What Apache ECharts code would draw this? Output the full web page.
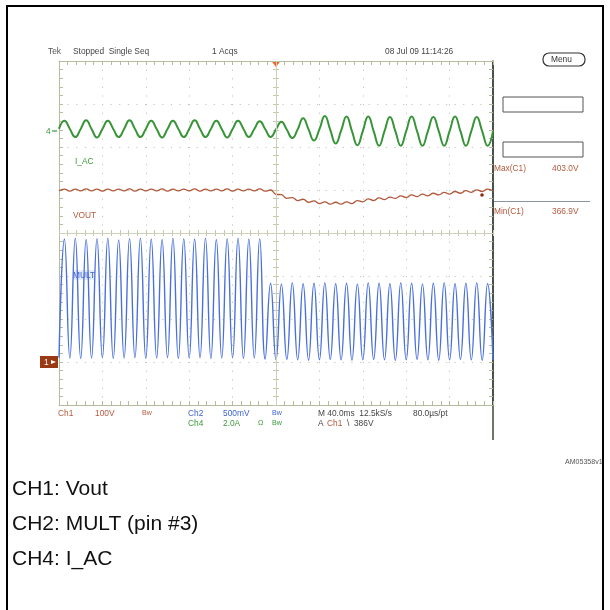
<!DOCTYPE html>
<html><head><meta charset="utf-8">
<script src="https://cdn.jsdelivr.net/npm/echarts@6/dist/echarts.min.js"></script>
<style>html,body{margin:0;padding:0;background:#fff}#c{width:610px;height:610px}</style>
</head><body><div id="c"></div>
<script>
// time of each sample in ms (trigger at 0), 40 ms/div, 10 div
const timeMs = [-200,-195,-190,-185,-180,-175,-170,-165,-160,-155,-150,-145,-140,-135,-130,-125,-120,-115,-110,-105,
-100,-95,-90,-85,-80,-75,-70,-65,-60,-55,-50,-45,-40,-35,-30,-25,-20,-15,-10,-5,
0,5,10,15,20,25,30,35,40,45,50,55,60,65,70,75,80,85,90,95,
100,105,110,115,120,125,130,135,140,145,150,155,160,165,170,175,180,185,190,195,200];
// values in screen divisions (centre = 0)
const voutDiv = [0.98,1.02,0.975,1.02,0.98,1.025,0.98,1.02,0.975,1.02,
0.98,1.02,0.98,1.025,0.975,1.02,0.98,1.02,0.98,1.025,
0.975,1.02,0.98,1.02,0.98,1.025,0.975,1.02,0.98,1.02,
0.98,1.025,0.975,1.02,0.98,1.02,0.98,1.025,0.975,1.0,
0.90,0.89,0.805,0.825,0.755,0.785,0.715,0.745,0.685,0.725,
0.67,0.715,0.67,0.725,0.685,0.755,0.725,0.795,0.755,0.815,
0.775,0.835,0.805,0.865,0.825,0.885,0.845,0.905,0.865,0.925,
0.885,0.945,0.905,0.965,0.925,0.985,0.945,1.005,0.965,1.02,0.98];
const iacDiv = [2.42,2.61,2.42,2.23,2.42,2.62,2.42,2.22,2.42,2.61,
2.42,2.23,2.42,2.62,2.42,2.23,2.42,2.61,2.42,2.22,
2.42,2.61,2.42,2.23,2.42,2.62,2.42,2.23,2.42,2.61,
2.42,2.22,2.42,2.61,2.42,2.23,2.42,2.60,2.42,2.23,
2.41,2.59,2.40,2.21,2.41,2.67,2.41,2.15,2.41,2.72,
2.40,2.08,2.38,2.71,2.37,2.04,2.37,2.71,2.37,2.03,
2.37,2.70,2.37,2.03,2.37,2.71,2.37,2.03,2.37,2.70,
2.37,2.03,2.37,2.71,2.37,2.03,2.37,2.70,2.37,2.03,2.37];
const multDiv = [-2.90,-0.14,-2.91,-0.12,-2.92,-0.15,-2.91,-0.13,-2.90,-0.12,
-2.92,-0.16,-2.91,-0.13,-2.90,-0.12,-2.92,-0.14,-2.91,-0.15,
-2.90,-0.12,-2.92,-0.13,-2.91,-0.14,-2.90,-0.12,-2.92,-0.15,
-2.91,-0.13,-2.90,-0.12,-2.92,-0.14,-2.91,-0.13,-2.93,-1.17,
-2.95,-1.19,-2.94,-1.16,-2.95,-1.18,-2.96,-1.17,-2.95,-1.16,
-2.94,-1.18,-2.95,-1.17,-2.96,-1.19,-2.95,-1.16,-2.94,-1.17,
-2.95,-1.18,-2.96,-1.16,-2.95,-1.17,-2.94,-1.19,-2.95,-1.17,
-2.96,-1.16,-2.95,-1.18,-2.94,-1.17,-2.95,-1.16,-2.96,-1.18,-2.95];
const headerTexts = ['Tek','Stopped  Single Seq','1 Acqs','08 Jul 09 11:14:26'];
const captions = ['CH1: Vout','CH2: MULT (pin #3)','CH4: I_AC'];

const pairs = v => timeMs.map((t,i)=>[t,v[i]]);
const FR = '#b6bc9e', DOT = '#c4c6b6', CT = '#c3c8ad';
const F = '"Liberation Sans", Arial, sans-serif';
function xa(extra){return Object.assign({type:'value',min:-200,max:200,interval:40,
  axisLabel:{show:false},splitLine:{show:false},
  axisLine:{onZero:false,lineStyle:{color:FR,width:1}},
  axisTick:{show:true,inside:true,length:4,lineStyle:{color:FR}},
  minorTick:{show:true,splitNumber:5,length:4,lineStyle:{color:FR}}},extra);}
function ya(extra){return Object.assign({type:'value',min:-4,max:4,interval:1,
  axisLabel:{show:false},splitLine:{show:false},
  axisLine:{onZero:false,lineStyle:{color:FR,width:1}},
  axisTick:{show:true,inside:true,length:4,lineStyle:{color:FR}},
  minorTick:{show:true,splitNumber:5,length:4,lineStyle:{color:FR}}},extra);}
const dotted = {show:true,lineStyle:{color:DOT,width:1,type:[1.2,7.4]}};
function t(txt,x,y,color,size,extra){return Object.assign({type:'text',x:x,y:y,scaleX:0.88,
  style:{text:txt,fill:color,font:(size||9.5)+'px '+F,textVerticalAlign:'middle'}},extra||{});}
const BR='#b35a3c', BL='#3f63d0', GR='#3b9a3b', DK='#444';
const centreTick = {axisLine:{show:false,onZero:false},axisTick:{show:true,inside:true,length:6,lineStyle:{color:CT}},minorTick:{show:true,splitNumber:5,length:6,lineStyle:{color:CT}}};

const chart = echarts.init(document.getElementById('c'),null,{renderer:'canvas'});
chart.setOption({
  animation:false,
  backgroundColor:'#fff',
  grid:{left:59,top:61,width:434,height:344,containLabel:false},
  xAxis:[
    xa({position:'bottom',splitLine:dotted}),
    xa({position:'top'}),
    xa(Object.assign({position:'bottom',offset:-169},centreTick))
  ],
  yAxis:[
    ya({position:'left',splitLine:dotted}),
    ya({position:'right',axisLine:{onZero:false,lineStyle:{color:'#3c473c',width:1.5}}}),
    ya(Object.assign({position:'left',offset:-214},centreTick))
  ],
  series:[
    {name:'centre',type:'line',data:[],z:1,markLine:{silent:true,symbol:'none',label:{show:false},
      lineStyle:{color:'#cdd1ba',width:1,type:'solid'},data:[{xAxis:0},{yAxis:0}]}},
    {name:'MULT',type:'line',data:pairs(multDiv),smooth:0.5,symbol:'none',lineStyle:{color:'#4a70dc',width:1.4}},
    {name:'VOUT',type:'line',data:pairs(voutDiv),smooth:0.5,symbol:'none',lineStyle:{color:'#b0583a',width:1.3}},
    {name:'I_AC',type:'line',data:pairs(iacDiv),smooth:0.5,symbol:'none',lineStyle:{color:'#379437',width:2}}
  ],
  graphic:[
    {type:'rect',shape:{x:7,y:6,width:596,height:640},style:{fill:'none',stroke:'#000',lineWidth:2},z:-1},
    t(headerTexts[0],48,51,'#555'),
    t(headerTexts[1],73,51,'#444'),
    t(headerTexts[2],212,51,'#444'),
    t(headerTexts[3],385,51,'#444'),
    {type:'rect',shape:{x:543,y:53,width:42,height:13,r:6},style:{fill:'#fff',stroke:'#333',lineWidth:1.2}},
    t('Menu',551,59.5,'#333'),
    {type:'rect',shape:{x:503,y:97,width:80,height:15},style:{fill:'#fff',stroke:'#555',lineWidth:1}},
    {type:'rect',shape:{x:503,y:142,width:80,height:15},style:{fill:'#fff',stroke:'#555',lineWidth:1}},
    t('Max(C1)',494,168,BR), t('403.0V',552,168,BR),
    {type:'line',shape:{x1:493,y1:201.5,x2:590,y2:201.5},style:{stroke:'#8a94a6',lineWidth:1}},
    t('Min(C1)',494,211,BR), t('366.9V',552,211,BR),
    {type:'line',shape:{x1:493,y1:61,x2:493,y2:440},style:{stroke:'#3c473c',lineWidth:1.5}},
    {type:'polygon',shape:{points:[[271.5,61],[280.5,61],[276,67]]},style:{fill:'#f0642a'}},
    t('4',46,131,GR), {type:'line',shape:{x1:52,y1:131,x2:57,y2:131},style:{stroke:GR,lineWidth:1.2}},
    {type:'rect',shape:{x:40,y:356,width:18,height:12},style:{fill:'#9a3a14'}},
    t('1',44,362,'#fff'), {type:'polygon',shape:{points:[[51,360],[51,364],[56,362]]},style:{fill:'#fff'}},
    {type:'circle',shape:{cx:482,cy:195,r:1.8},style:{fill:'#8a2c10'}},
    t('I_AC',75,161,GR),
    t('VOUT',73,215,BR),
    t('MULT',73,275,BL,9.5,{style:{text:'MULT',fill:BL,font:'9.5px '+F,textVerticalAlign:'middle',backgroundColor:'#e6ecfb'}}),
    t('Ch1',58,413,BR), t('100V',95,413,BR), t('Bw',142,413,BR,8),
    t('Ch2',188,413,BL), t('500mV',223,413,BL), t('Bw',272,413,BL,8),
    t('Ch4',188,423,GR), t('2.0A',223,423,GR), t('Ω',258,423,GR,8), t('Bw',272,423,GR,8),
    t('M 40.0ms  12.5kS/s',318,413,DK), t('80.0µs/pt',413,413,DK),
    t('A',318,423,DK), t('Ch1',327,423,BR), t('\\  386V',347,423,DK),
    t('AM05358v1',565,462,'#555',8),
    {type:'text',x:12,y:489,style:{text:captions[0],fill:'#111',font:'21px '+F,textVerticalAlign:'middle'}},
    {type:'text',x:12,y:524,style:{text:captions[1],fill:'#111',font:'21px '+F,textVerticalAlign:'middle'}},
    {type:'text',x:12,y:559,style:{text:captions[2],fill:'#111',font:'21px '+F,textVerticalAlign:'middle'}}
  ]
});
</script></body></html>
